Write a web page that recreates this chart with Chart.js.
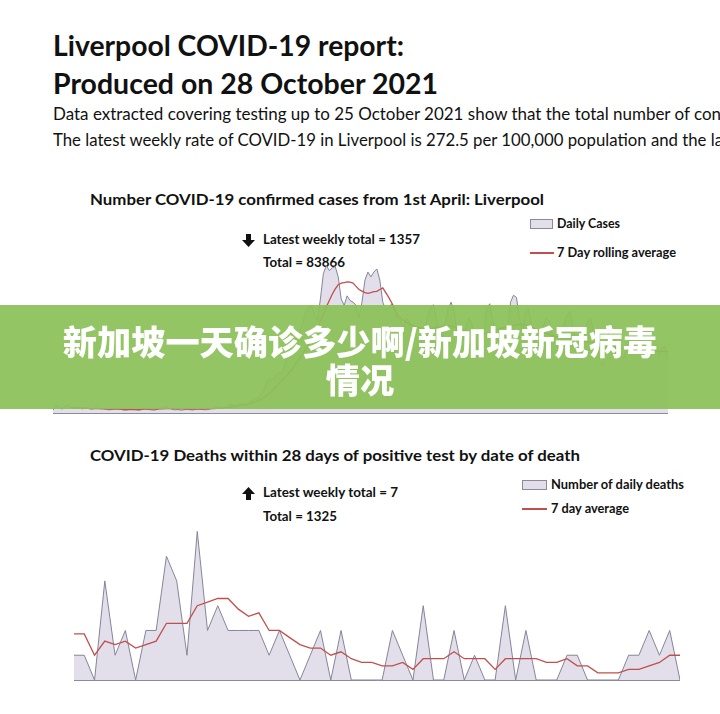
<!DOCTYPE html>
<html>
<head>
<meta charset="utf-8">
<script src="https://cdn.jsdelivr.net/npm/chart.js@4.4.1/dist/chart.umd.min.js"></script>
<style>
  html, body { margin: 0; padding: 0; background: #fff; }
  body { width: 720px; height: 714px; position: relative; overflow: hidden; font-family: Lato, "Liberation Sans", sans-serif; color: #111; }
  .t { position: absolute; white-space: nowrap; line-height: 1; transform-origin: 0 0; }
  .b { font-weight: 700; }
  canvas { position: absolute; }
  svg { position: absolute; }
  .box { position: absolute; width: 23px; height: 10px; background: #e2deea; border: 1px solid #8a8a98; box-sizing: border-box; }
  .ln { position: absolute; width: 24px; height: 1.5px; background: #c0504d; }
  #banner { position: absolute; left: 0; top: 305px; width: 720px; height: 104px; background: rgba(140, 193, 88, 0.93); color: #fff;
    font-family: "Noto Sans CJK SC", sans-serif; font-weight: 900; font-size: 34.2px; line-height: 38px; text-align: center; padding-top: 16px; box-sizing: border-box; }
</style>
</head>
<body>

<div class="t b" id="h1" style="left:53px;top:31px;font-size:28px;">Liverpool COVID-19 report:</div>
<div class="t b" id="h2" style="left:53px;top:69px;font-size:28px;">Produced on 28 October 2021</div>
<div class="t" id="p1" style="left:53px;top:105px;font-size:17px;">Data extracted covering testing up to 25 October 2021 show that the total number of con</div>
<div class="t" id="p2" style="left:53px;top:131px;font-size:17px;">The latest weekly rate of COVID-19 in Liverpool is 272.5 per 100,000 population and the la</div>

<div class="t b" id="c1t" style="left:90px;top:192px;font-size:15.5px;">Number COVID-19 confirmed cases from 1st April: Liverpool</div>
<div class="box" style="left:530px;top:219px;"></div>
<div class="t b" id="c1l1" style="left:557px;top:218px;font-size:12.5px;">Daily Cases</div>
<div class="ln" style="left:530px;top:252px;"></div>
<div class="t b" id="c1l2" style="left:557px;top:247px;font-size:12.5px;">7 Day rolling average</div>
<svg width="13" height="13" style="left:242px;top:234px;"><polygon points="4,0 9,0 9,6 13,6 6.5,13 0,6 4,6" fill="#111"/></svg>
<div class="t b" id="c1a1" style="left:263px;top:234px;font-size:12.5px;">Latest weekly total = 1357</div>
<div class="t b" id="c1a2" style="left:263px;top:257px;font-size:12.5px;">Total = 83866</div>
<canvas id="cases" width="615" height="160" style="left:53px;top:261px;"></canvas>

<div class="t b" id="c2t" style="left:90px;top:448px;font-size:15.5px;">COVID-19 Deaths within 28 days of positive test by date of death</div>
<div class="box" style="left:522px;top:480px;width:25px;"></div>
<div class="t b" id="c2l1" style="left:551px;top:479px;font-size:12.5px;">Number of daily deaths</div>
<div class="ln" style="left:522px;top:508px;width:25px;"></div>
<div class="t b" id="c2l2" style="left:551px;top:503px;font-size:12.5px;">7 day average</div>
<svg width="13" height="13" style="left:242px;top:487px;"><polygon points="6.5,0 13,7 9,7 9,13 4,13 4,7 0,7" fill="#111"/></svg>
<div class="t b" id="c2a1" style="left:263px;top:487px;font-size:12.5px;">Latest weekly total = 7</div>
<div class="t b" id="c2a2" style="left:263px;top:511px;font-size:12.5px;">Total = 1325</div>
<canvas id="deaths" width="606" height="170" style="left:74px;top:518px;"></canvas>

<div id="banner">新加坡一天确诊多少啊/新加坡新冠病毒<br>情况</div>

<script>
// daily confirmed cases, 1 April - 25 October 2021
const casosDiarios = [
  9, 24, 18, 12, 20, 24, 15, 14, 16, 15, 13, 17, 14, 12, 15, 16, 13,
  14, 11, 10, 12, 15, 13, 11, 9, 10, 13, 12, 10, 9, 11, 14, 12, 10, 9, 11, 15,
  18, 22, 16, 12, 10, 11, 9, 10, 13, 11, 9, 12, 14, 12, 10, 11, 13, 16, 22, 18,
  14, 17, 24, 28, 22, 25, 30, 27, 24,
  33, 40, 48, 45, 58, 72, 100, 108, 105, 118,
  128, 122, 150, 190, 204, 183, 215, 250, 282, 318,
  333, 339, 312, 290, 360, 440, 465, 450, 458, 462,
  430, 360, 340, 370, 355, 350, 340, 300, 350, 420,
  445, 430, 445, 455, 420, 350, 325, 330, 345, 320, 300,
  290, 270, 300, 285, 250, 235, 240, 225, 260, 300,
  330, 342, 300, 260, 240, 280, 330, 350, 320, 250,
  215, 230, 270, 300, 280, 240, 200, 185, 250, 330,
  345, 290, 260, 230, 200, 180, 260, 350, 372, 365,
  300, 260, 320, 330, 280, 240, 210, 230, 270, 300,
  290, 250, 220, 205, 230, 280, 310, 320, 270, 230,
  200, 220, 260, 290, 300, 250, 210, 165, 150, 200,
  250, 270, 240, 210, 190, 170, 200, 230, 240, 255,
  245, 250, 220, 190, 175, 200, 215, 180, 205, 210, 172
];

// 7 day rolling average of cases
const mediaCasos = [
  null, null, null, null, null, null, 17, 17, 16, 16, 15, 15, 15, 14, 14, 14, 14,
  13, 13, 12, 12, 12, 12, 12, 11, 11, 11, 11, 11, 11, 12, 12, 12, 12, 12, 12, 13, 13, 14, 14, 14,
  14, 13, 13, 13, 12, 12, 12, 12, 12, 12, 13, 13, 14, 14, 15, 15, 16, 17, 18, 19, 20, 22, 24, 26, 27,
  29, 32, 35, 38, 42, 48, 55, 63, 72, 82, 92, 102, 112, 122, 132,
  145, 158, 172, 186, 200, 216, 232, 250, 270, 290, 312, 335, 355, 375, 392, 405,
  410, 412, 414, 413, 410, 400, 390, 385, 380, 378, 380, 383, 384, 390, 395, 380, 365, 348, 330, 310,
  300, 292, 285, 280, 276, 273, 270, 268, 266, 265, 266, 268, 270, 272, 274, 276, 277, 275, 272, 268, 264, 262, 260, 258,
  256, 254, 252, 250, 250, 252, 255, 258, 262, 265, 268, 270, 272, 274, 276, 278, 280, 280, 278, 275,
  272, 268, 264, 260, 256, 252, 248, 245, 242, 240,
  238, 236, 235, 234, 233, 232, 230, 228, 226, 225, 224, 223, 222, 220, 218, 215, 212, 210, 208, 206,
  205, 204, 203, 202, 201, 200, 200, 199, 199, 198, 198, 197, 196, 195, 195, 194, 194
];

// daily deaths and 7 day average
const obitosDiarios = [
  1, 1, 0, 4, 1, 2, 0, 2, 2, 5,
  4, 1, 6, 2, 3, 2, 2, 2, 2, 1,
  2, 1, 0, 1, 2, 0, 2, 0, 0, 0,
  0, 2, 1, 0, 3, 0, 0, 2, 0, 1,
  0, 0, 3, 0, 2, 0, 0, 0, 1, 1,
  0, 0, 0, 0, 1, 1, 2, 1, 2, 0
];
const mediaObitos = [
  1.86, 1.86, 1.0, 1.57, 1.43, 1.57, 1.29, 1.43, 1.57, 2.29,
  2.29, 2.29, 3.0, 3.14, 3.29, 3.29, 2.86, 2.57, 2.71, 2.0,
  2.0, 1.71, 1.43, 1.29, 1.29, 1.0, 1.14, 0.86, 0.71, 0.71,
  0.57, 0.57, 0.71, 0.43, 0.86, 0.86, 0.86, 1.14, 0.86, 0.86,
  0.86, 0.43, 0.86, 0.86, 0.86, 0.86, 0.71, 0.71, 0.86, 0.57,
  0.57, 0.29, 0.29, 0.29, 0.43, 0.43, 0.57, 0.71, 1.0, 1.0
];

function datas(fim, n) {
  const lista = [];
  for (let i = n - 1; i >= 0; i--) {
    const d = new Date(fim);
    d.setDate(d.getDate() - i);
    lista.push(d.toISOString().slice(0, 10));
  }
  return lista;
}
const diasCasos = datas("2021-10-25T12:00:00", casosDiarios.length);
const diasObitos = datas("2021-10-25T12:00:00", obitosDiarios.length);

// ajusta a largura dos textos (fonte Calibri substituida)
const larguras = { h1: 351, h2: 385, p1: 668, p2: 670, c1t: 454, c2t: 490,
  c1l1: 63, c1l2: 119, c2l1: 133, c2l2: 78, c1a1: 157, c1a2: 82, c2a1: 135, c2a2: 74 };
for (const id in larguras) {
  const el = document.getElementById(id);
  const w = el.getBoundingClientRect().width;
  el.style.transform = "scaleX(" + (larguras[id] / w) + ")";
}

function desenhar(id, rotulos, diarios, media, max) {
  const ctx = document.getElementById(id).getContext("2d");
  return new Chart(ctx, {
    type: "line",
    data: {
      labels: rotulos,
      datasets: [{
        data: media,
        borderColor: "#c0504d",
        borderWidth: 1.3,
        pointRadius: 0,
        fill: false,
        tension: 0
      }, {
        data: diarios,
        borderColor: "#85859a",
        backgroundColor: "#e2deea",
        borderWidth: 1,
        pointRadius: 0,
        fill: "origin",
        tension: 0
      }]
    },
    options: {
      responsive: false,
      animation: false,
      layout: { padding: 0 },
      plugins: { legend: { display: false }, tooltip: { enabled: false } },
      scales: {
        x: { offset: false, grid: { display: false }, ticks: { display: false }, border: { color: "#8a8a98" } },
        y: { display: false, min: 0, max: max }
      }
    }
  });
}

desenhar("cases", diasCasos, casosDiarios, mediaCasos, 480);
desenhar("deaths", diasObitos, obitosDiarios, mediaObitos, 6.54);
</script>
</body>
</html>
